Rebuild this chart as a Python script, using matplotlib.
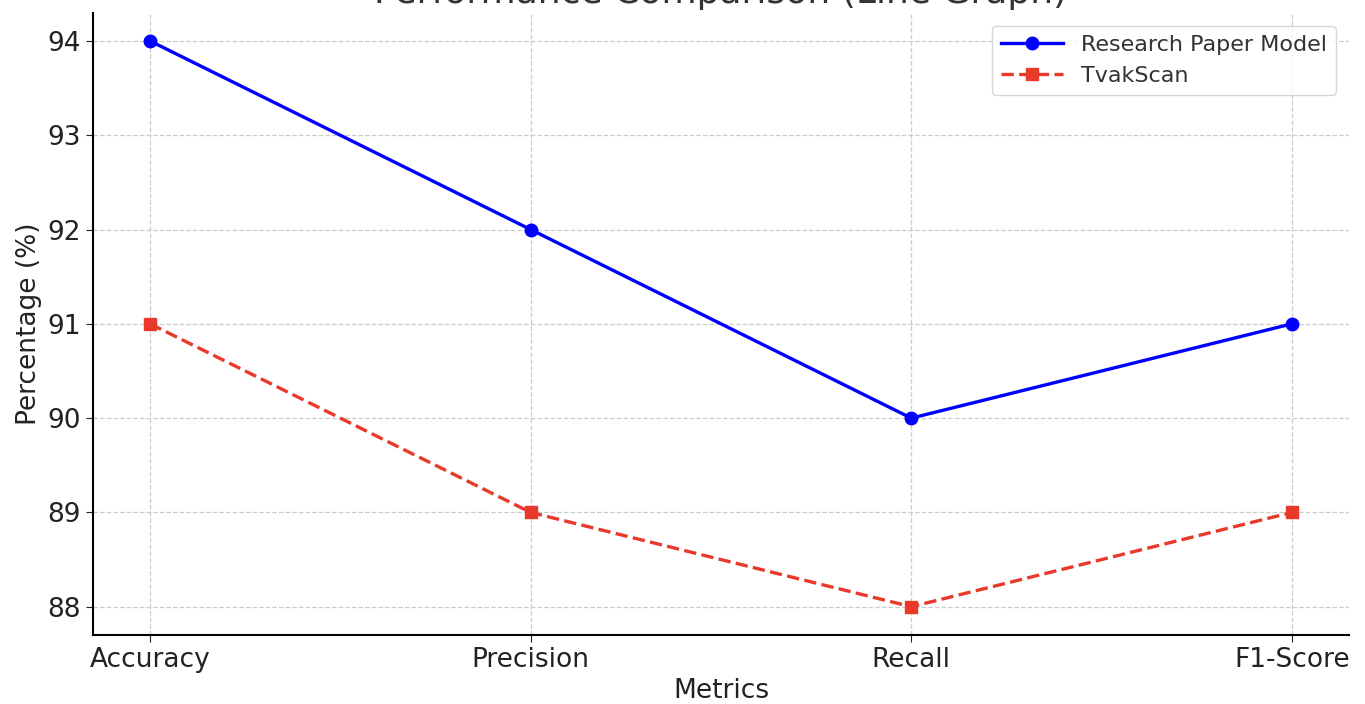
import matplotlib
matplotlib.use("Agg")
from matplotlib import pyplot as plt

# data
metrics = ["Accuracy", "Precision", "Recall", "F1-Score"]
research_model = [94, 92, 90, 91]
tvakscan = [91, 89, 88, 89]

fig = plt.figure(figsize=(13.65, 7.04), dpi=100)
ax = fig.add_axes([0.0681, 0.098, 0.9202, 0.884])

ax.plot(metrics, research_model, color="#0000ff", marker="o", markersize=9,
        linewidth=2.4, linestyle="-", label="Research Paper Model")
ax.plot(metrics, tvakscan, color="#e8392b", marker="s", markersize=8,
        linewidth=2.4, linestyle="--", label="TvakScan")

# the reference is cropped so only the bottom of the title shows
ax.set_title("Performance Comparison (Line Graph)", fontsize=26, color="#333333", pad=7)
ax.set_xlabel("Metrics", fontsize=19, color="#222222", labelpad=4)
ax.set_ylabel("Percentage (%)", fontsize=19, color="#222222", labelpad=4)
ax.tick_params(axis="both", labelsize=19, colors="#222222", length=5)
ax.set_yticks([88, 89, 90, 91, 92, 93, 94])

ax.grid(True, linestyle="--", color="#cccccc", linewidth=0.9)
ax.spines["top"].set_visible(False)
ax.spines["right"].set_visible(False)
ax.spines["left"].set_linewidth(1.5)
ax.spines["bottom"].set_linewidth(1.5)

leg = ax.legend(loc="upper right", fontsize=16, frameon=True, handlelength=2.8,
                borderaxespad=0.6)
for txt in leg.get_texts():
    txt.set_color("#333333")
leg.get_frame().set_edgecolor("#cccccc")

plt.savefig("out.png", dpi=100)
